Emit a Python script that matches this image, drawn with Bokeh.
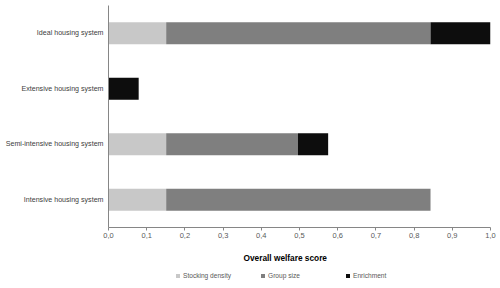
from bokeh.plotting import figure
from bokeh.layouts import column
from bokeh.models import (ColumnDataSource, FactorRange, Range1d, FixedTicker,
                          CustomJSTickFormatter, Legend, LegendItem, Title)
from bokeh.embed import file_html
from bokeh.resources import INLINE

# Housing systems, listed bottom to top
systems = ["Intensive housing system", "Semi-intensive housing system",
           "Extensive housing system", "Ideal housing system"]
components = ["Stocking density", "Group size", "Enrichment"]
stocking_density = [0.151, 0.151, 0.0, 0.151]
group_size = [0.692, 0.345, 0.0, 0.692]
enrichment = [0.0, 0.079, 0.079, 0.157]
x_ticks = [0.0, 0.1, 0.2, 0.3, 0.4, 0.5, 0.6, 0.7, 0.8, 0.9, 1.0]

colors = ["#c8c8c8", "#7f7f7f", "#0d0d0d"]
FONT = "Liberation Sans"

source = ColumnDataSource(dict(system=systems,
                               **{"Stocking density": stocking_density,
                                  "Group size": group_size,
                                  "Enrichment": enrichment}))

p = figure(width=500, height=250, y_range=FactorRange(*systems),
           x_range=Range1d(0, 1.0), output_backend="svg", toolbar_location=None,
           min_border_left=108, min_border_right=10, min_border_top=5,
           min_border_bottom=23)

p.hbar_stack(components, y="system", height=0.4, color=colors,
             line_color=None, source=source)

p.outline_line_color = None
p.xgrid.grid_line_color = None
p.ygrid.grid_line_color = None

xa = p.xaxis[0]
xa.ticker = FixedTicker(ticks=x_ticks)
xa.formatter = CustomJSTickFormatter(code="return tick.toFixed(1).replace('.', ',');")
xa.axis_line_color = "#868686"
xa.major_tick_line_color = "#868686"
xa.major_tick_out = 3
xa.major_tick_in = 0
xa.minor_tick_line_color = None
xa.major_label_text_font = FONT
xa.major_label_text_font_size = "7.5px"
xa.major_label_text_color = "#595959"
xa.major_label_standoff = 2

ya = p.yaxis[0]
ya.axis_line_color = "#868686"
ya.major_tick_line_color = None
ya.major_tick_out = 0
ya.major_tick_in = 0
ya.minor_tick_line_color = None
ya.major_label_text_font = FONT
ya.major_label_text_font_size = "7.1px"
ya.major_label_text_color = "#404040"
ya.major_label_standoff = 5

# Strip underneath the chart: axis title and legend (swatch renderers have zero size)
lf = figure(width=500, height=38, x_range=Range1d(0, 1), y_range=Range1d(0, 1),
            output_backend="svg", toolbar_location=None,
            min_border_left=108, min_border_right=10, min_border_top=0,
            min_border_bottom=0)
lf.axis.visible = False
lf.grid.visible = False
lf.outline_line_color = None
lf.add_layout(Title(text="Overall welfare score", align="left", offset=135,
                    standoff=0, text_font=FONT, text_font_size="8.3px",
                    text_font_style="bold", text_color="#000000"), "above")

anchor = ColumnDataSource(dict(x=[0], y=[0]))
swatches = [lf.rect(x="x", y="y", width=0, height=0, fill_color=c, line_color=None,
                    source=anchor)
            for c in colors]

legend = Legend(items=[LegendItem(label=c, renderers=[r]) for c, r in zip(components, swatches)],
                orientation="horizontal", location=(67, 9),
                glyph_width=5, glyph_height=5, label_height=8, label_width=77,
                label_standoff=3, spacing=0, padding=0, margin=0,
                border_line_color=None, background_fill_alpha=0,
                label_text_font=FONT, label_text_font_size="6.6px",
                label_text_color="#595959")
lf.add_layout(legend, "center")

layout = column(p, lf, spacing=0)
open("out.html", "w").write(file_html(layout, INLINE))
